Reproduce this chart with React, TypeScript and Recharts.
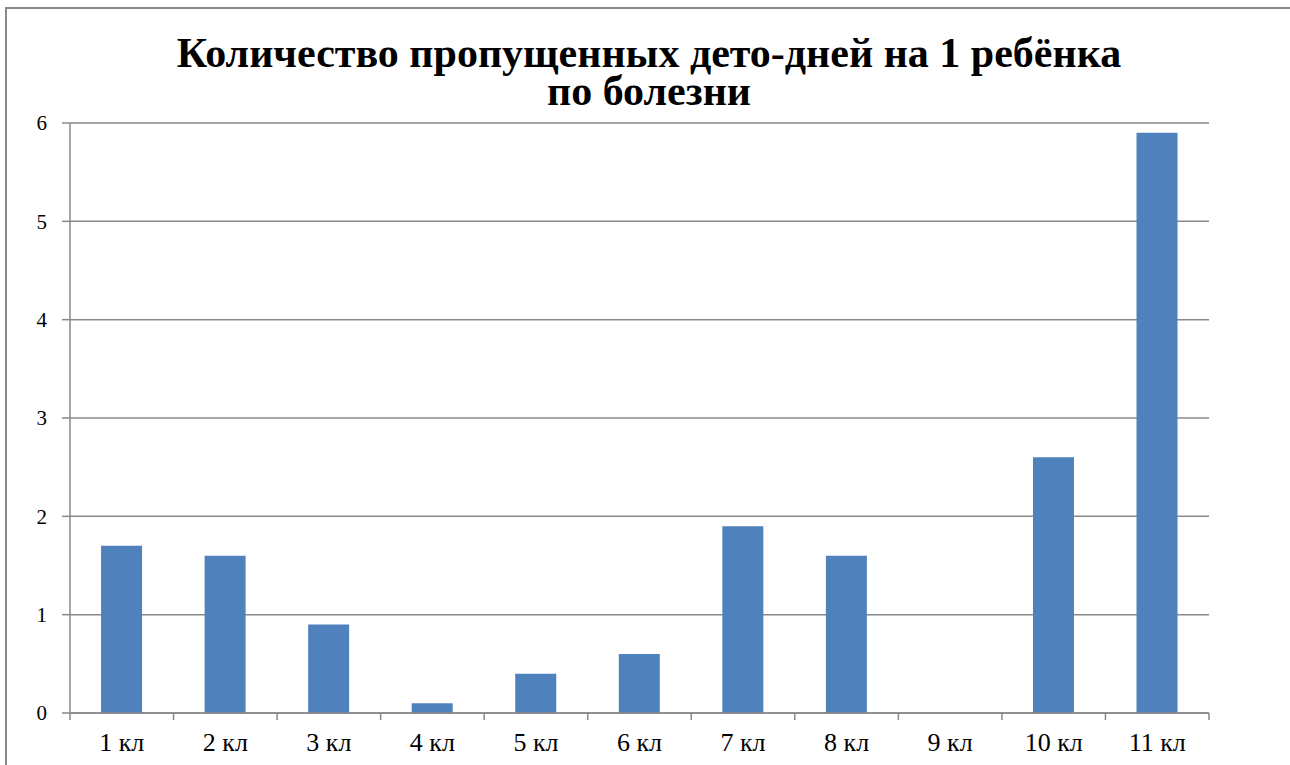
import React from 'react';
import { BarChart, Bar, XAxis, YAxis, CartesianGrid } from 'recharts';

const classes = ['1 кл', '2 кл', '3 кл', '4 кл', '5 кл', '6 кл', '7 кл', '8 кл', '9 кл', '10 кл', '11 кл'];
const missedDays = [1.7, 1.6, 0.9, 0.1, 0.4, 0.6, 1.9, 1.6, 0, 2.6, 5.9];
const yTicks = [0, 1, 2, 3, 4, 5, 6];
const titleLines = ['Количество пропущенных дето-дней на 1 ребёнка', 'по болезни'];

const data = classes.map((name, i) => ({ name, value: missedDays[i] }));

const GREY = '#898989';
const FONT = 'Times New Roman';

const TICK_SIZE = 7;
const TICK_MARGIN = 13;

// Excel-style: tick marks sit on the category boundaries, labels in the middle
const ClassTick = (props: any) => {
  const { x, y, payload, index, visibleTicksCount } = props;
  const half = payload?.offset ?? 0;
  const top = y - TICK_MARGIN - TICK_SIZE;
  return (
    <g>
      <line x1={x - half} y1={top} x2={x - half} y2={top + TICK_SIZE} stroke={GREY} strokeWidth={1.5} />
      {index === visibleTicksCount - 1 && (
        <line x1={x + half} y1={top} x2={x + half} y2={top + TICK_SIZE} stroke={GREY} strokeWidth={1.5} />
      )}
      <text x={x} y={y} dy="0.71em" textAnchor="middle" fill="#000" fontFamily={FONT} fontSize={26}>
        {payload.value}
      </text>
    </g>
  );
};

export default function App() {
  return (
    <div style={{ position: 'fixed', left: 0, top: 0, width: 1290, height: 765, overflow: 'hidden', background: '#fff' }}>
      <div
        style={{
          position: 'absolute',
          left: 5,
          top: 7,
          width: 1400,
          height: 900,
          borderLeft: `2px solid ${GREY}`,
          borderTop: `2px solid ${GREY}`,
        }}
      />
      <div style={{ position: 'absolute', left: 0, top: 0 }}>
        <BarChart
          width={1290}
          height={765}
          data={data}
          margin={{ top: 123, right: 81, left: 0, bottom: 0 }}
          barCategoryGap="30%"
        >
          <CartesianGrid horizontal vertical={false} stroke={GREY} strokeWidth={1.5} />
          <XAxis
            dataKey="name"
            height={52}
            interval={0}
            axisLine={{ stroke: GREY, strokeWidth: 1.5 }}
            tickLine={false}
            tickSize={TICK_SIZE}
            tickMargin={TICK_MARGIN}
            tick={<ClassTick />}
          />
          <YAxis
            width={70}
            domain={[0, 6]}
            ticks={yTicks}
            interval={0}
            axisLine={{ stroke: GREY, strokeWidth: 1.5 }}
            tickLine={{ stroke: GREY, strokeWidth: 1.5 }}
            tickSize={8}
            tickMargin={15}
            tick={{ fill: '#000', fontFamily: FONT, fontSize: 21 }}
          />
          <Bar dataKey="value" fill="#4F81BD" isAnimationActive={false} />
        </BarChart>
      </div>
      <svg width={1290} height={130} style={{ position: 'absolute', left: 0, top: 0 }}>
        <text x={649} y={67} textAnchor="middle" fontFamily={FONT} fontWeight="bold" fontSize={42} fill="#000">
          {titleLines[0]}
        </text>
        <text x={649} y={105} textAnchor="middle" fontFamily={FONT} fontWeight="bold" fontSize={42} fill="#000">
          {titleLines[1]}
        </text>
      </svg>
    </div>
  );
}
